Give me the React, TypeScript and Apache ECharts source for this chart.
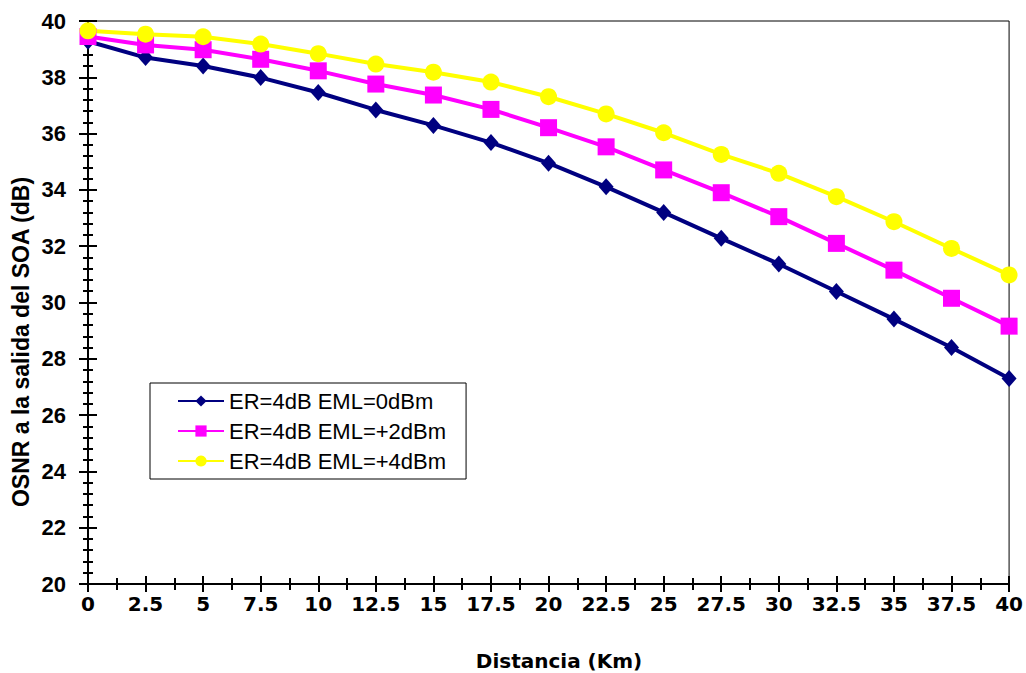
import React, { useEffect, useRef } from "react";
import * as echarts from "echarts";

const distances = [0, 2.5, 5, 7.5, 10, 12.5, 15, 17.5, 20, 22.5, 25, 27.5, 30, 32.5, 35, 37.5, 40];
const eml0 = [39.28, 38.7, 38.4, 37.99, 37.46, 36.84, 36.29, 35.68, 34.95, 34.11, 33.2, 32.28, 31.37, 30.39, 29.41, 28.4, 27.3];
const eml2 = [39.45, 39.15, 38.98, 38.64, 38.23, 37.76, 37.37, 36.86, 36.21, 35.53, 34.71, 33.9, 33.05, 32.1, 31.15, 30.15, 29.16];
const eml4 = [39.65, 39.53, 39.44, 39.18, 38.84, 38.47, 38.18, 37.83, 37.31, 36.7, 36.03, 35.26, 34.59, 33.76, 32.87, 31.92, 30.98];
const seriesNames = ["ER=4dB EML=0dBm", "ER=4dB EML=+2dBm", "ER=4dB EML=+4dBm"];
const xTitle = "Distancia (Km)";
const yTitle = "OSNR a la salida del SOA (dB)";

export default function App() {
  const ref = useRef<HTMLDivElement>(null);
  useEffect(() => {
    if (!ref.current) return;
    const chart = echarts.init(ref.current, null, { renderer: "svg" });
    const pair = (ys: number[]) => distances.map((x, i) => [x, ys[i]]);
    const grid = { left: 88, right: 16, top: 21, bottom: 89 };
    const baseX = {
      type: "value",
      min: 0,
      max: 40,
      interval: 2.5,
      position: "bottom",
      splitLine: { show: false },
      minorTick: { show: true, splitNumber: 2, length: 6, lineStyle: { color: "#000", width: 2 } },
      axisTick: { show: true, length: 8, lineStyle: { color: "#000", width: 2 } },
    };
    const baseY = {
      type: "value",
      min: 20,
      max: 40,
      interval: 2,
      position: "left",
      splitLine: { show: false },
      minorTick: { show: true, splitNumber: 5, length: 5, lineStyle: { color: "#000", width: 2 } },
      axisTick: { show: true, length: 9, lineStyle: { color: "#000", width: 2 } },
    };
    chart.setOption({
      animation: false,
      backgroundColor: "#fff",
      grid: { ...grid, show: true, borderColor: "#000", borderWidth: 1, backgroundColor: "#fff" },
      xAxis: [
        {
          ...baseX,
          axisLine: { show: true, lineStyle: { color: "#000", width: 2 } },
          axisLabel: {
            show: true,
            margin: 10,
            color: "#000",
            fontFamily: "DejaVu Sans",
            fontWeight: "bold",
            fontSize: 20,
          },
        },
        {
          ...baseX,
          axisLine: { show: false },
          axisLabel: { show: false },
          axisTick: { ...baseX.axisTick, inside: true },
        },
      ],
      yAxis: [
        {
          ...baseY,
          axisLine: { show: true, lineStyle: { color: "#000", width: 2 } },
          axisLabel: {
            show: true,
            margin: 22,
            color: "#000",
            fontFamily: "Liberation Sans",
            fontWeight: "bold",
            fontSize: 22,
          },
        },
        {
          ...baseY,
          axisLine: { show: false },
          axisLabel: { show: false },
          axisTick: { ...baseY.axisTick, inside: true },
        },
      ],
      legend: {
        orient: "vertical",
        left: 150,
        top: 383,
        padding: [7, 20, 7, 27],
        itemGap: 8,
        itemWidth: 46,
        itemHeight: 14,
        borderColor: "#000",
        borderWidth: 1,
        borderRadius: 0,
        backgroundColor: "#fff",
        textStyle: { fontFamily: "Liberation Sans", fontSize: 22, color: "#000", lineHeight: 21 },
        data: seriesNames,
      },
      graphic: [
        {
          type: "text",
          x: 559,
          y: 661,
          style: {
            text: xTitle,
            fontFamily: "DejaVu Sans",
            fontWeight: "bold",
            fontSize: 20,
            fill: "#000",
            align: "center",
            verticalAlign: "middle",
          },
        },
        {
          type: "text",
          x: 21,
          y: 342,
          rotation: Math.PI / 2,
          style: {
            text: yTitle,
            fontFamily: "Liberation Sans",
            fontWeight: "bold",
            fontSize: 23,
            fill: "#000",
            align: "center",
            verticalAlign: "middle",
          },
        },
      ],
      series: [
        {
          name: seriesNames[0],
          type: "line",
          data: pair(eml0),
          symbol: "diamond",
          symbolSize: [15, 17],
          lineStyle: { color: "#000080", width: 4 },
          itemStyle: { color: "#000080" },
        },
        {
          name: seriesNames[1],
          type: "line",
          data: pair(eml2),
          symbol: "rect",
          symbolSize: 17,
          lineStyle: { color: "#FF00FF", width: 4 },
          itemStyle: { color: "#FF00FF" },
        },
        {
          name: seriesNames[2],
          type: "line",
          data: pair(eml4),
          symbol: "circle",
          symbolSize: 17,
          lineStyle: { color: "#FFFF00", width: 4 },
          itemStyle: { color: "#FFFF00" },
        },
      ],
    });
    return () => chart.dispose();
  }, []);
  return <div ref={ref} style={{ width: 1026, height: 673, position: "absolute", left: 0, top: 0 }} />;
}
